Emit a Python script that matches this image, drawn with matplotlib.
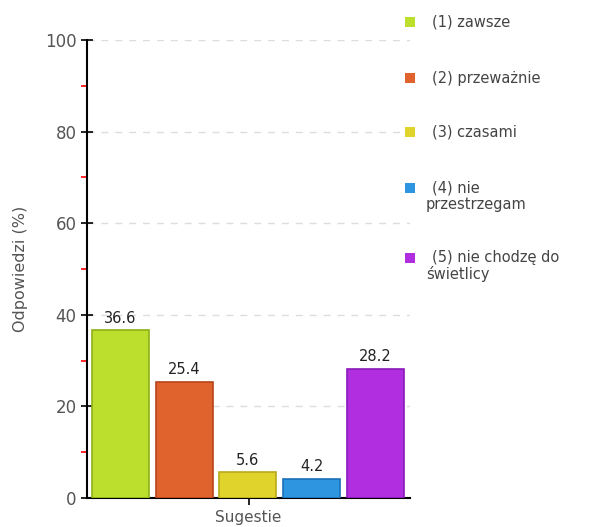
import matplotlib.pyplot as plt
from matplotlib.patches import Rectangle

labels = ["(1) zawsze", "(2) przeważnie", "(3) czasami", "(4) nie\nprzestrzegam", "(5) nie chodzę do\nświetlicy"]
values = [36.6, 25.4, 5.6, 4.2, 28.2]
colors = ["#bcdf2e", "#e0622c", "#e0d42c", "#2e96e0", "#b02ee0"]
edges = ["#8fb019", "#b8451a", "#b8aa1a", "#1a70b8", "#8a1ab8"]

fig = plt.figure(figsize=(6.14, 5.27), dpi=100)
ax = fig.add_axes([87 / 614, 29 / 527, 323 / 614, 458 / 527])

pos = [0.5 + i * 0.99 for i in range(len(values))]
ax.bar(pos, values, width=0.89, color=colors, edgecolor=edges, linewidth=1.2, zorder=3)
for x, v in zip(pos, values):
    ax.text(x, v + 1.0, f"{v:g}", ha="center", va="bottom", fontsize=10.5, color="#222222")

ax.set_xlim(-0.02, 5.0)
ax.set_ylim(0, 100)
ax.set_yticks([0, 20, 40, 60, 80, 100])
ax.set_yticks([10, 30, 50, 70, 90], minor=True)
ax.tick_params(axis="y", which="major", direction="inout", length=8, width=1.2,
               colors="black", labelcolor="#555555", labelsize=12)
ax.tick_params(axis="y", which="minor", direction="out", length=4, width=1.2, colors="red")
ax.set_xticks([2.5])
ax.set_xticklabels([""])
ax.tick_params(axis="x", direction="out", length=5, width=1.2, colors="black")
ax.set_xlabel("Sugestie", color="#555555", fontsize=11, labelpad=0)
ax.set_ylabel("Odpowiedzi (%)", color="#555555", fontsize=11.5, labelpad=12)

for y in [20, 40, 60, 80, 100]:
    ax.axhline(y, color="#dddddd", linestyle=(0, (5, 5)), linewidth=1, zorder=1)

ax.spines["top"].set_visible(False)
ax.spines["right"].set_visible(False)
ax.spines["left"].set_linewidth(1.5)
ax.spines["bottom"].set_linewidth(1.5)

# legend drawn by hand to match the stacked layout
leg_y = [22, 78, 132, 188, 258]
for lab, c, y in zip(labels, colors, leg_y):
    fig.patches.append(Rectangle((405 / 614, 1 - (y + 5) / 527), 10 / 614, 10 / 527,
                                 transform=fig.transFigure, facecolor=c, edgecolor="none"))
    lines = lab.split("\n")
    fig.text(432 / 614, 1 - y / 527, lines[0], ha="left", va="center", fontsize=10.5, color="#444444")
    if len(lines) > 1:
        fig.text(426 / 614, 1 - (y + 16) / 527, lines[1], ha="left", va="center", fontsize=10.5, color="#444444")

fig.savefig("out.png", dpi=100)
